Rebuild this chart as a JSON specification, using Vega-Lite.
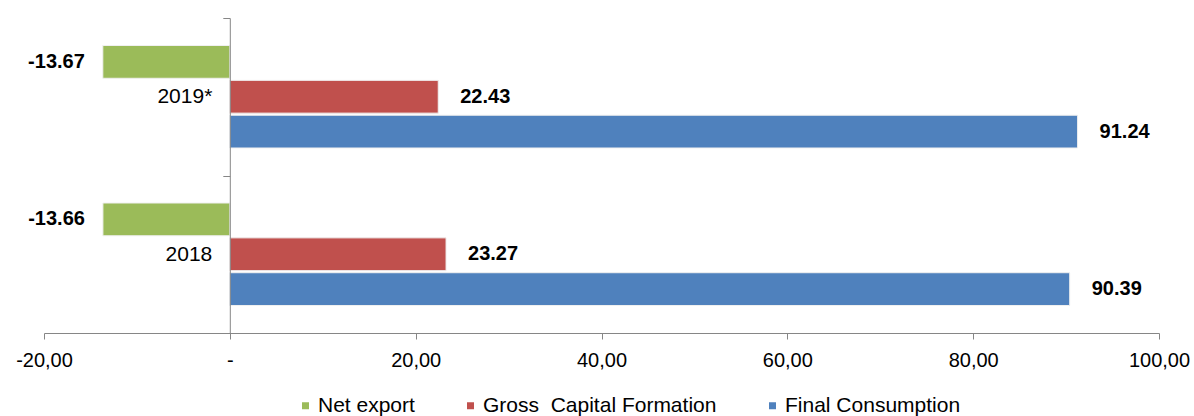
{
  "$schema": "https://vega.github.io/schema/vega-lite/v6.json",
  "width": 1115,
  "height": 315,
  "autosize": {"type": "none"},
  "padding": {"left": 44, "top": 18, "right": 35, "bottom": 83},
  "background": "white",
  "config": {"view": {"stroke": null}, "font": "Liberation Sans"},
  "data": {
    "values": [
      {"year": "2019*", "series": "Net export", "value": -13.67},
      {"year": "2019*", "series": "Gross\u00a0 Capital Formation", "value": 22.43},
      {"year": "2019*", "series": "Final Consumption", "value": 91.24},
      {"year": "2018", "series": "Net export", "value": -13.66},
      {"year": "2018", "series": "Gross\u00a0 Capital Formation", "value": 23.27},
      {"year": "2018", "series": "Final Consumption", "value": 90.39}
    ]
  },
  "encoding": {
    "y": {
      "field": "year",
      "type": "nominal",
      "sort": ["2019*", "2018"],
      "scale": {"paddingInner": 0, "paddingOuter": 0},
      "axis": {
        "title": null,
        "offset": -185.8,
        "zindex": 1,
        "domainColor": "#868686",
        "tickColor": "#868686",
        "tickSize": 7,
        "tickBand": "extent",
        "labelPadding": 11,
        "labelFontSize": 21,
        "labelColor": "black",
        "labelBaseline": "middle"
      }
    },
    "yOffset": {
      "field": "series",
      "sort": ["Net export", "Gross\u00a0 Capital Formation", "Final Consumption"],
      "scale": {"paddingInner": 0.06, "paddingOuter": 0.789}
    },
    "x": {
      "field": "value",
      "type": "quantitative",
      "scale": {"domain": [-20, 100], "nice": false, "zero": false},
      "axis": {
        "title": null,
        "grid": false,
        "values": [-20, 0, 20, 40, 60, 80, 100],
        "labelFlush": false,
        "domainColor": "#868686",
        "tickColor": "#868686",
        "tickSize": 6,
        "labelPadding": 11,
        "labelFontSize": 20,
        "labelColor": "black",
        "labelExpr": "datum.value == 0 ? '-' : (datum.value < 0 ? '-' : '') + replace(format(abs(datum.value), '.2f'), '.', ',')"
      }
    }
  },
  "layer": [
    {
      "mark": {"type": "bar", "stroke": "#f0f0f0", "strokeWidth": 1},
      "encoding": {
        "color": {
          "field": "series",
          "type": "nominal",
          "sort": ["Net export", "Gross\u00a0 Capital Formation", "Final Consumption"],
          "scale": {
            "domain": ["Net export", "Gross\u00a0 Capital Formation", "Final Consumption"],
            "range": ["#9BBB59", "#C0504D", "#4F81BD"]
          },
          "legend": {
            "orient": "none",
            "legendX": 251,
            "legendY": 377,
            "direction": "horizontal",
            "columns": 3,
            "title": null,
            "symbolType": "square",
            "symbolSize": 49,
            "symbolStrokeWidth": 0,
            "labelFontSize": 21,
            "labelOffset": 2,
            "labelLimit": 0,
            "columnPadding": 45,
            "padding": 0,
            "labelColor": "black",
            "labelFont": "Liberation Sans"
          }
        }
      }
    },
    {
      "transform": [
        {"filter": "datum.value < 0"},
        {"calculate": "'-' + format(abs(datum.value), '.2f')", "as": "label"}
      ],
      "mark": {"type": "text", "fontWeight": "bold", "fontSize": 20, "align": "right", "baseline": "middle", "dx": -18, "color": "black"},
      "encoding": {"text": {"field": "label"}}
    },
    {
      "transform": [
        {"filter": "datum.value >= 0"},
        {"calculate": "format(datum.value, '.2f')", "as": "label"}
      ],
      "mark": {"type": "text", "fontWeight": "bold", "fontSize": 20, "align": "left", "baseline": "middle", "dx": 22, "color": "black"},
      "encoding": {"text": {"field": "label"}}
    }
  ]
}
